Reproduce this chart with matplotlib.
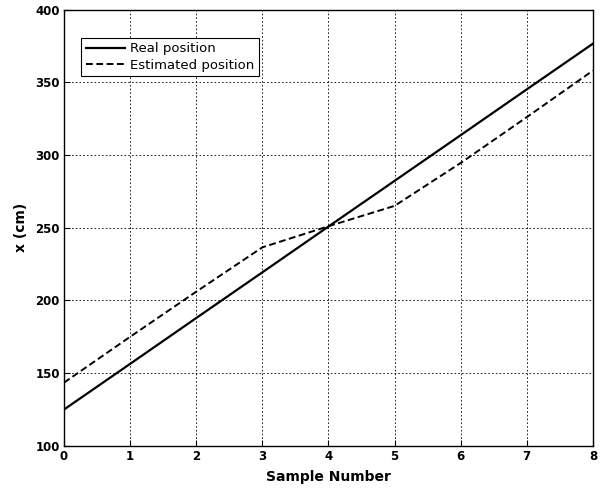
import matplotlib
matplotlib.use("Agg")
import matplotlib.pyplot as plt

samples = [0, 1, 2, 3, 4, 5, 6, 7, 8]
real_position = [125.0, 156.4, 187.9, 219.3, 250.8, 282.2, 313.6, 345.1, 376.5]
estimated_position = [143.5, 175.0, 206.0, 236.5, 251.0, 265.0, 294.5, 326.0, 358.0]

xticks = [0, 1, 2, 3, 4, 5, 6, 7, 8]
yticks = [100, 150, 200, 250, 300, 350, 400]

plt.rcParams['font.family'] = ['DejaVu Sans']

fig = plt.figure(figsize=(6.01, 4.90), dpi=100)
ax = fig.add_axes([0.1065, 0.090, 0.880, 0.8906])

ax.plot(samples, real_position, color='black', linewidth=1.6, linestyle='-', label='Real position')
ax.plot(samples, estimated_position, color='black', linewidth=1.4, linestyle=(0, (3.5, 1.8)), label='Estimated position')

ax.set_xlim(0, 8)
ax.set_ylim(100, 400)
ax.set_xticks(xticks)
ax.set_yticks(yticks)
ax.grid(True, color='black', linestyle=(0, (2, 2.5)), linewidth=0.6)
ax.tick_params(direction='in', length=4, width=0.8, labelsize=8.5, pad=3)
for lab in ax.get_xticklabels() + ax.get_yticklabels():
    lab.set_fontweight('bold')
for s in ax.spines.values():
    s.set_linewidth(1.0)
    s.set_color('black')

ax.set_xlabel('Sample Number', fontsize=10, fontweight='bold', labelpad=5)
ax.set_ylabel('x (cm)', fontsize=10, fontweight='bold', labelpad=5)

leg = ax.legend(loc='upper left', bbox_to_anchor=(0.032, 0.935), fontsize=9.5,
                frameon=True, fancybox=False, edgecolor='black', framealpha=1,
                handlelength=3.0, handletextpad=0.35, borderpad=0.35, labelspacing=0.25,
                borderaxespad=0)
leg.get_frame().set_linewidth(0.8)

fig.savefig('out.png', dpi=100)
